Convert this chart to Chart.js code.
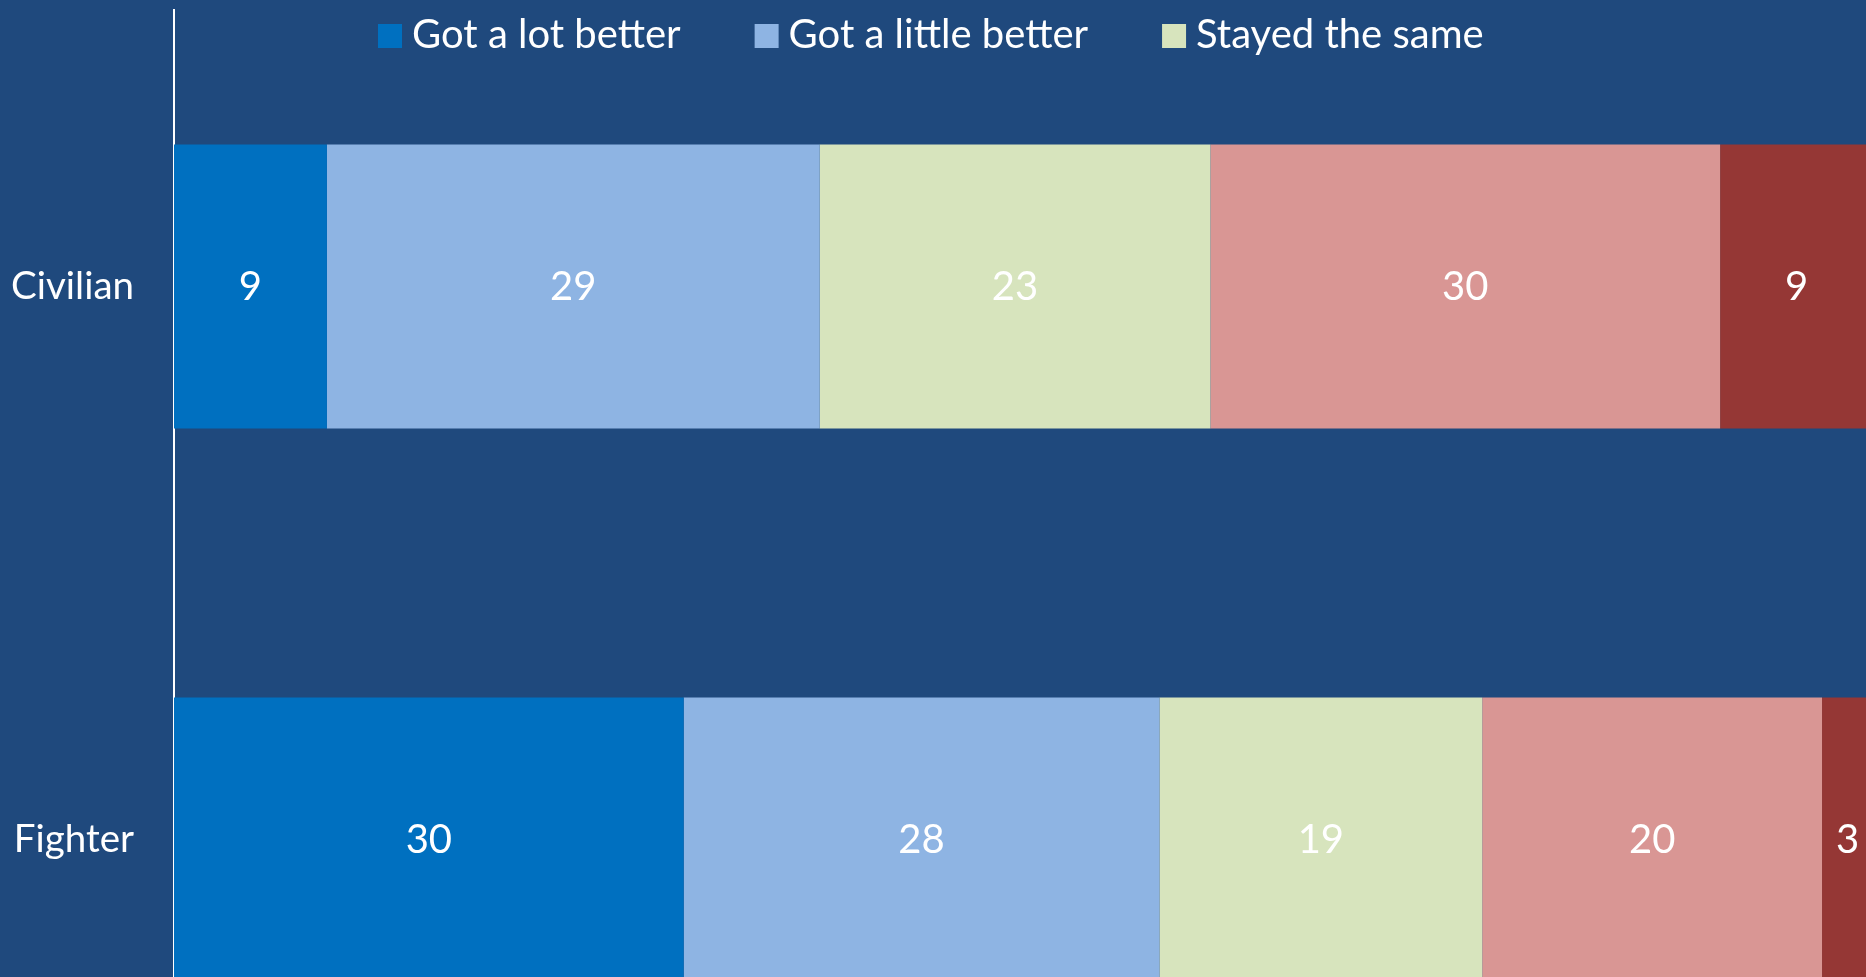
<!DOCTYPE html>
<html>
<head>
<meta charset="utf-8">
<script src="https://cdn.jsdelivr.net/npm/chart.js@4.4.1/dist/chart.umd.min.js"></script>
<style>
  html, body { margin: 0; padding: 0; background: #1F497D; overflow: hidden; }
  #wrap { position: absolute; left: 0; top: 0; width: 1880px; height: 1130px; }
</style>
</head>
<body>
<div id="wrap"><canvas id="chart"></canvas></div>
<script>
// categories and series
const categorias = ['Civilian', 'Fighter'];
const seriesNombres = ['Got a lot better', 'Got a little better', 'Stayed the same', 'Got a little worse', 'Got a lot worse'];
const muchoMejor = [9, 30];
const pocoMejor = [29, 28];
const igual = [23, 19];
const pocoPeor = [30, 20];
const muchoPeor = [9, 3];
const colores = ['#0070C0', '#8EB4E3', '#D7E4BD', '#D99694', '#953735'];
const itemsLeyenda = 3; // the rest of the legend is outside the picture

const FUENTE = '40px Lato';

// Etiquetas de valor en el centro de cada segmento
const etiquetasValor = {
    id: 'etiquetasValor',
    afterDatasetsDraw(chart) {
        const ctx = chart.ctx;
        ctx.save();
        ctx.font = FUENTE;
        ctx.fillStyle = '#FFFFFF';
        ctx.textAlign = 'center';
        ctx.textBaseline = 'middle';
        chart.data.datasets.forEach((ds, i) => {
            chart.getDatasetMeta(i).data.forEach((bar, j) => {
                ctx.fillText(ds.data[j], (bar.x + bar.base) / 2, bar.y + 1);
            });
        });
        ctx.restore();
    }
};

// Leyenda dibujada sobre el área del gráfico
const leyenda = {
    id: 'leyenda',
    afterDraw(chart) {
        const ctx = chart.ctx;
        ctx.save();
        ctx.font = FUENTE;
        ctx.textBaseline = 'alphabetic';
        let x = 378;
        chart.data.datasets.slice(0, itemsLeyenda).forEach(ds => {
            ctx.fillStyle = ds.backgroundColor;
            ctx.fillRect(x, 24, 24, 24);
            ctx.fillStyle = '#FFFFFF';
            ctx.fillText(ds.label, x + 34, 48);
            x += 34 + ctx.measureText(ds.label).width + 74;
        });
        ctx.restore();
    }
};

const valores = [muchoMejor, pocoMejor, igual, pocoPeor, muchoPeor];

const ctxBarras = document.getElementById('chart').getContext('2d');
new Chart(ctxBarras, {
    type: 'bar',
    data: {
        labels: categorias,
        datasets: seriesNombres.map((nombre, i) => ({
            label: nombre,
            data: valores[i],
            backgroundColor: colores[i],
            borderWidth: 0,
            categoryPercentage: 1,
            barPercentage: 0.514
        }))
    },
    options: {
        indexAxis: 'y',
        responsive: true,
        maintainAspectRatio: false,
        animation: false,
        layout: { padding: { left: 0, top: 10, right: 7, bottom: 14 } },
        plugins: { legend: { display: false }, tooltip: { enabled: false } },
        scales: {
            x: { stacked: true, min: 0, max: 100, display: false },
            y: {
                stacked: true,
                z: 1,
                grid: { display: false, drawTicks: true, tickLength: 40 },
                border: { display: true, color: '#FFFFFF', width: 2 },
                ticks: { color: '#FFFFFF', font: { family: 'Lato', size: 38.5, lineHeight: 0.4 }, padding: 0 },
                afterFit(scale) { scale.width = 174; }
            }
        }
    },
    plugins: [etiquetasValor, leyenda]
});
</script>
</body>
</html>
